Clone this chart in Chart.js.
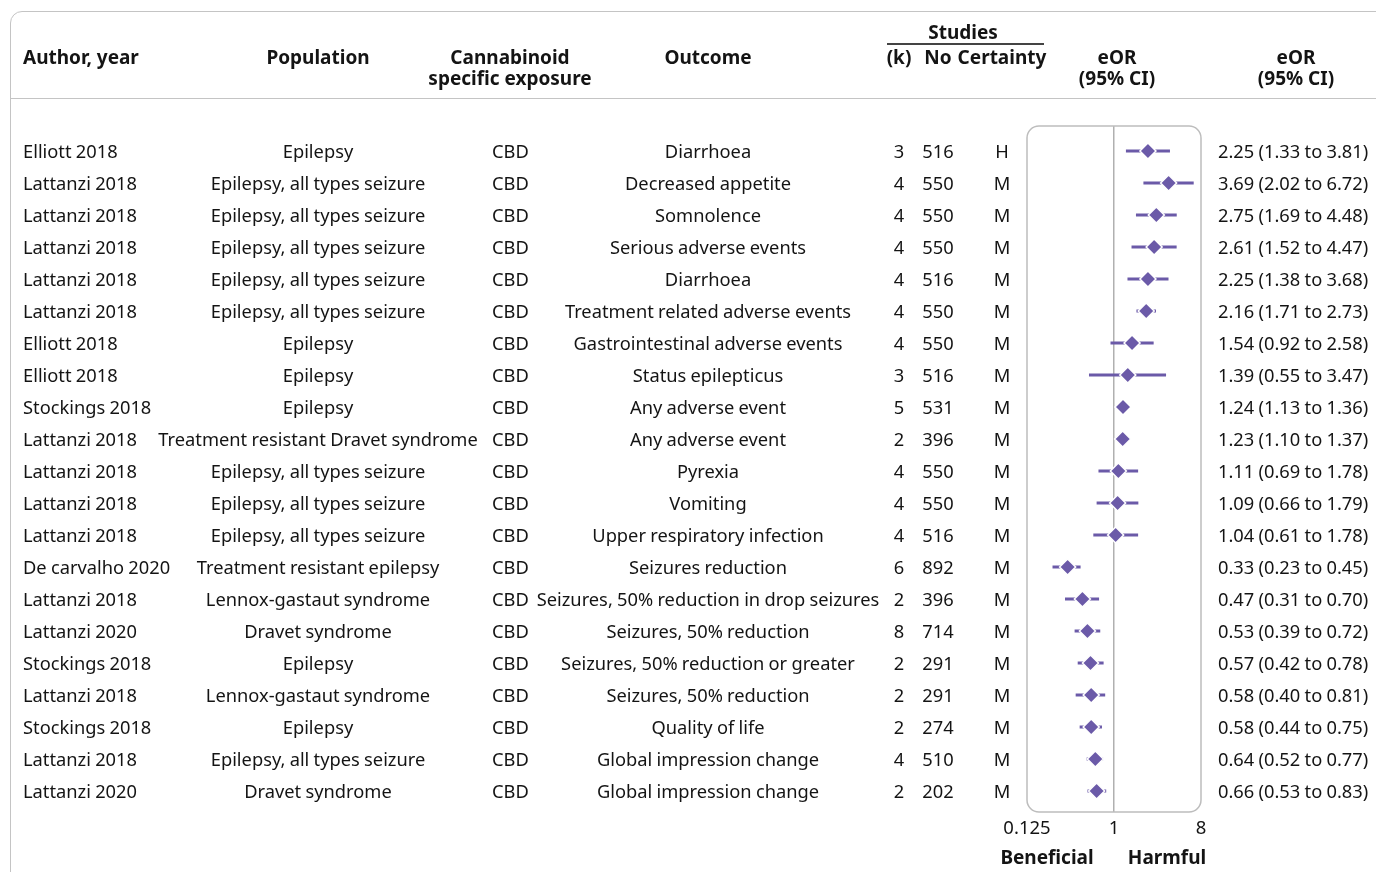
<!DOCTYPE html>
<html>
<head>
<meta charset="utf-8">
<script src="https://cdn.jsdelivr.net/npm/chart.js@4.4.1/dist/chart.umd.min.js"></script>
<style>
  body { margin: 0; background: #fff; font-family: "Noto Sans", sans-serif; color: #141414; }
  #wrap { position: relative; width: 1376px; height: 872px; overflow: hidden; }
  #frame { position: absolute; left: 10px; top: 11px; width: 1420px; height: 920px;
           border: 1.5px solid #c4c4c4; border-radius: 12px; }
  #sep { position: absolute; left: 10px; top: 98px; width: 1400px; border-top: 1.5px solid #c4c4c4; }
  #studiesLine { position: absolute; left: 887px; top: 43px; width: 157px; border-top: 2px solid #444; }
  canvas { position: absolute; left: 0; top: 0; }
  .t { position: absolute; font-size: 18.3px; line-height: 24px; white-space: nowrap; word-spacing: -0.5px; }
  .b { font-weight: bold; font-size: 19px; word-spacing: 0; }
</style>
</head>
<body>
<div id="wrap">
  <div id="frame"></div>
  <div id="sep"></div>
  <div id="studiesLine"></div>
  <canvas id="forest" width="1376" height="872"></canvas>
</div>
<script>
const authors = ['Elliott 2018', 'Lattanzi 2018', 'Lattanzi 2018', 'Lattanzi 2018', 'Lattanzi 2018', 'Lattanzi 2018',
  'Elliott 2018', 'Elliott 2018', 'Stockings 2018', 'Lattanzi 2018', 'Lattanzi 2018', 'Lattanzi 2018', 'Lattanzi 2018',
  'De carvalho 2020', 'Lattanzi 2018', 'Lattanzi 2020', 'Stockings 2018', 'Lattanzi 2018', 'Stockings 2018',
  'Lattanzi 2018', 'Lattanzi 2020'];
const populations = ['Epilepsy', 'Epilepsy, all types seizure', 'Epilepsy, all types seizure', 'Epilepsy, all types seizure',
  'Epilepsy, all types seizure', 'Epilepsy, all types seizure', 'Epilepsy', 'Epilepsy', 'Epilepsy',
  'Treatment resistant Dravet syndrome', 'Epilepsy, all types seizure', 'Epilepsy, all types seizure',
  'Epilepsy, all types seizure', 'Treatment resistant epilepsy', 'Lennox-gastaut syndrome', 'Dravet syndrome',
  'Epilepsy', 'Lennox-gastaut syndrome', 'Epilepsy', 'Epilepsy, all types seizure', 'Dravet syndrome'];
const exposures = Array(21).fill('CBD');
const outcomes = ['Diarrhoea', 'Decreased appetite', 'Somnolence', 'Serious adverse events', 'Diarrhoea',
  'Treatment related adverse events', 'Gastrointestinal adverse events', 'Status epilepticus', 'Any adverse event',
  'Any adverse event', 'Pyrexia', 'Vomiting', 'Upper respiratory infection', 'Seizures reduction',
  'Seizures, 50% reduction in drop seizures', 'Seizures, 50% reduction', 'Seizures, 50% reduction or greater',
  'Seizures, 50% reduction', 'Quality of life', 'Global impression change', 'Global impression change'];
const studiesK = [3, 4, 4, 4, 4, 4, 4, 3, 5, 2, 4, 4, 4, 6, 2, 8, 2, 2, 2, 4, 2];
const participants = [516, 550, 550, 550, 516, 550, 550, 516, 531, 396, 550, 550, 516, 892, 396, 714, 291, 291, 274, 510, 202];
const certainty = ['H', 'M', 'M', 'M', 'M', 'M', 'M', 'M', 'M', 'M', 'M', 'M', 'M', 'M', 'M', 'M', 'M', 'M', 'M', 'M', 'M'];
const eor = [2.25, 3.69, 2.75, 2.61, 2.25, 2.16, 1.54, 1.39, 1.24, 1.23, 1.11, 1.09, 1.04, 0.33, 0.47, 0.53, 0.57, 0.58, 0.58, 0.64, 0.66];
const ciLow = [1.33, 2.02, 1.69, 1.52, 1.38, 1.71, 0.92, 0.55, 1.13, 1.10, 0.69, 0.66, 0.61, 0.23, 0.31, 0.39, 0.42, 0.40, 0.44, 0.52, 0.53];
const ciHigh = [3.81, 6.72, 4.48, 4.47, 3.68, 2.73, 2.58, 3.47, 1.36, 1.37, 1.78, 1.79, 1.78, 0.45, 0.70, 0.72, 0.78, 0.81, 0.75, 0.77, 0.83];
const xTicks = [0.125, 1, 8];
const xTickLabels = ['0.125', '1', '8'];

const purple = '#6b5aa8';
const wrap = document.getElementById('wrap');

function place(text, x, y, align, bold) {
  const d = document.createElement('div');
  d.className = 't' + (bold ? ' b' : '');
  d.textContent = text;
  d.style.top = (y - 12) + 'px';
  if (align === 'center') {
    d.style.left = (x - 250) + 'px';
    d.style.width = '500px';
    d.style.textAlign = 'center';
  } else {
    d.style.left = x + 'px';
  }
  wrap.appendChild(d);
}

// box around the plot area
const boxPlugin = {
  id: 'box',
  afterDatasetsDraw(chart) {
    const a = chart.chartArea, ctx = chart.ctx;
    ctx.save();
    ctx.strokeStyle = '#bdbdbd';
    ctx.lineWidth = 1.5;
    ctx.beginPath();
    ctx.roundRect(a.left, a.top, a.right - a.left, a.bottom - a.top, 12);
    ctx.stroke();
    ctx.restore();
  }
};

const datasets = [{
  data: eor.map((v, i) => ({ x: v, y: i })),
  pointStyle: 'rectRot',
  pointRadius: 8,
  backgroundColor: purple,
  pointBorderColor: '#fff',
  pointBorderWidth: 1.5,
  order: 0
}];
eor.forEach((v, i) => {
  datasets.push({
    data: [{ x: ciLow[i], y: i }, { x: ciHigh[i], y: i }],
    showLine: true,
    borderColor: purple,
    borderWidth: 3,
    pointRadius: 0,
    order: 1
  });
});

const chart = new Chart(document.getElementById('forest').getContext('2d'), {
  type: 'scatter',
  data: { datasets },
  options: {
    responsive: false,
    animation: false,
    layout: { padding: { left: 1027, right: 175, top: 126, bottom: 30 } },
    plugins: { legend: { display: false }, tooltip: { enabled: false } },
    scales: {
      y: { type: 'linear', reverse: true, min: -25 / 32, max: 20 + 21 / 32, display: false },
      x: {
        type: 'logarithmic', min: 0.125, max: 8,
        afterBuildTicks: s => { s.ticks = xTicks.map(v => ({ value: v })); },
        afterFit: s => { s.height = 30; },
        border: { display: false },
        grid: {
          drawTicks: false,
          lineWidth: 1.5,
          color: c => (c.tick && c.tick.value === 1 ? '#b0b0b0' : 'rgba(0,0,0,0)')
        },
        ticks: {
          padding: 6,
          color: '#141414',
          font: { family: 'Noto Sans', size: 18.5 },
          maxRotation: 0,
          autoSkip: false,
          callback: (v, idx) => xTickLabels[idx]
        }
      }
    }
  },
  plugins: [boxPlugin]
});

// header
place('Author, year', 23, 57, 'left', true);
place('Population', 318, 57, 'center', true);
place('Cannabinoid', 510, 57, 'center', true);
place('specific exposure', 510, 78, 'center', true);
place('Outcome', 708, 57, 'center', true);
place('Studies', 963, 32, 'center', true);
place('(k)', 899, 57, 'center', true);
place('No', 938, 57, 'center', true);
place('Certainty', 1002, 57, 'center', true);
place('eOR', 1117, 57, 'center', true);
place('(95% CI)', 1117, 78, 'center', true);
place('eOR', 1296, 57, 'center', true);
place('(95% CI)', 1296, 78, 'center', true);

// rows, aligned to the chart's y scale
const yScale = chart.scales.y;
eor.forEach((v, i) => {
  const y = yScale.getPixelForValue(i);
  place(authors[i], 23, y, 'left');
  place(populations[i], 318, y, 'center');
  place(exposures[i], 492, y, 'left');
  place(outcomes[i], 708, y, 'center');
  place(String(studiesK[i]), 899, y, 'center');
  place(String(participants[i]), 938, y, 'center');
  place(certainty[i], 1002, y, 'center');
  place(v.toFixed(2) + ' (' + ciLow[i].toFixed(2) + ' to ' + ciHigh[i].toFixed(2) + ')', 1218, y, 'left');
});

place('Beneficial', 1047, 857, 'center', true);
place('Harmful', 1167, 857, 'center', true);
</script>
</body>
</html>
